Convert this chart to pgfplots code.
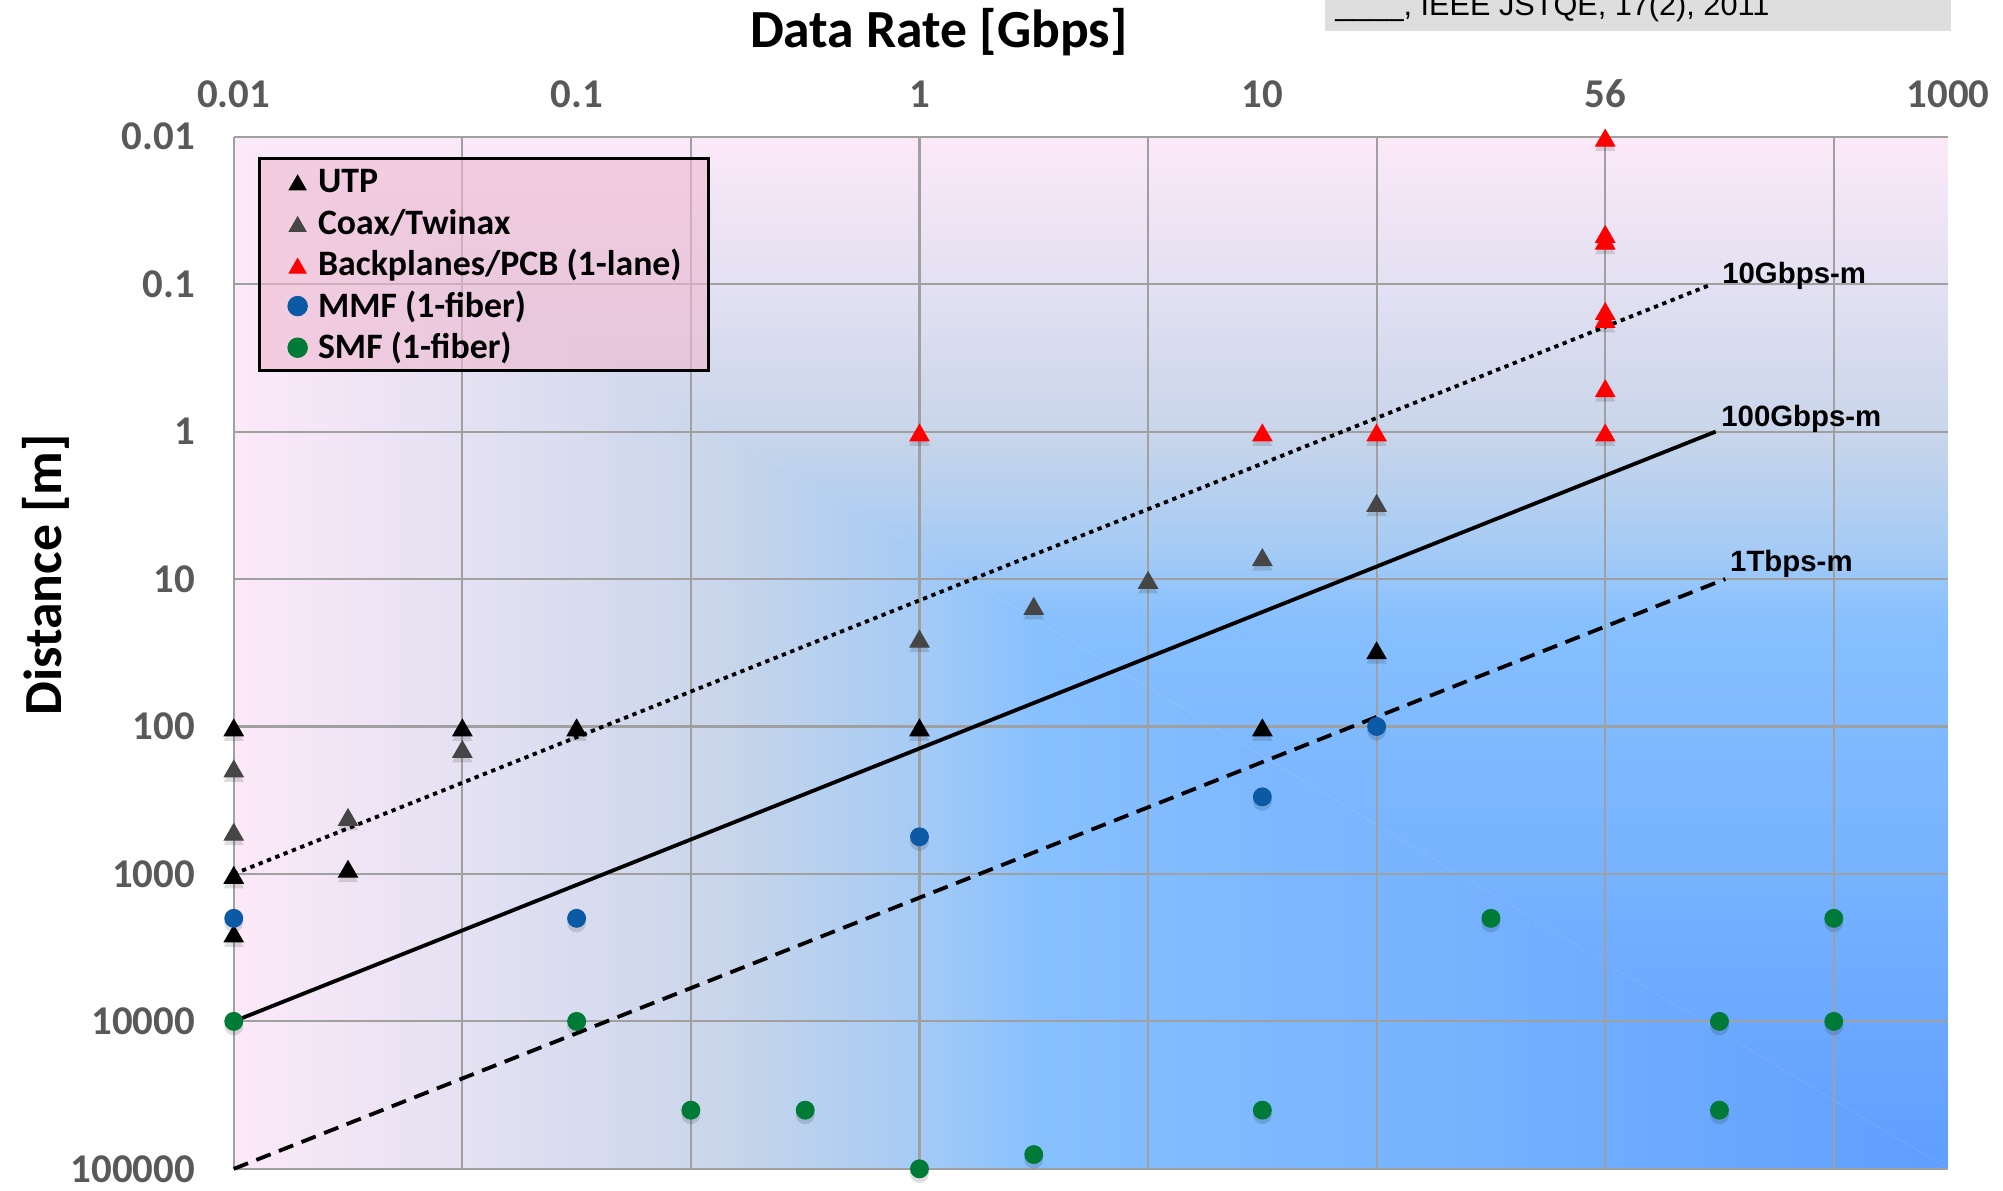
\documentclass[border=0pt]{standalone}
\usepackage{pgfplots}
\pgfplotsset{compat=1.18}
\usepackage{pgfplotstable}
\usepackage{fontspec}
\setmainfont{Carlito}
\newfontfamily\arialfont{Liberation Sans}

\definecolor{bgA}{RGB}{252,233,248}
\definecolor{bgB}{RGB}{226,224,242}
\definecolor{bgC}{RGB}{200,213,234}
\definecolor{bgD}{RGB}{165,203,245}
\definecolor{bgE}{RGB}{134,192,255}
\definecolor{bgF}{RGB}{118,178,255}
\definecolor{bgG}{RGB}{95,158,255}
\definecolor{gridgray}{RGB}{160,160,160}
\definecolor{tickgray}{RGB}{89,89,89}
\definecolor{coaxgray}{RGB}{70,70,70}
\definecolor{mmfblue}{RGB}{12,90,165}
\definecolor{smfgreen}{RGB}{0,122,55}
\definecolor{legendpink}{RGB}{240,186,208}
\definecolor{boxgray}{RGB}{222,222,222}

\pgfdeclarehorizontalshading{bgh}{100bp}{color(0bp)=(bgA); color(25bp)=(bgA); color(32.5bp)=(bgB); color(39.5bp)=(bgC); color(45bp)=(bgD); color(48.5bp)=(bgE); color(61bp)=(bgF); color(75bp)=(bgG); color(100bp)=(bgG)}
\pgfdeclareverticalshading{bgv}{100bp}{color(0bp)=(bgG); color(25bp)=(bgG); color(39bp)=(bgF); color(51.5bp)=(bgE); color(55bp)=(bgD); color(60.5bp)=(bgC); color(67.5bp)=(bgB); color(75bp)=(bgA); color(100bp)=(bgA)}

\pgfplotstableread{
x y
0.01 100
0.01 1000
0.01 2500
0.02154 910
0.04642 100
0.1 100
1 100
10 100
21.54 30
}\utp

\pgfplotstableread{
x y
0.01 190
0.01 510
0.02154 405
0.04642 140
1 25
2.154 15
4.642 10
10 7
21.54 3
}\coax

\pgfplotstableread{
x y
1 1
10 1
21.54 1
100 1
100 0.5
100 0.15
100 0.17
100 0.045
100 0.05
100 0.01
}\backpl

\pgfplotstableread{
x y
0.01 2000
0.1 2000
1 560
10 300
21.54 100
}\mmf

\pgfplotstableread{
x y
0.01 10000
0.1 10000
0.2154 40000
0.4642 40000
1 100000
2.154 80000
10 40000
46.42 2000
215.4 10000
215.4 40000
464.2 2000
464.2 10000
}\smf

\begin{document}
\begin{tikzpicture}
\path[use as bounding box] (-91.5pt,-8.5pt) rectangle (692.5pt,457.5pt);
% background gradient (plot box spans (0,0)--(671pt,404pt))
\begin{scope}
  \clip (0pt,404pt) -- (0pt,0pt) -- (671pt,0pt) -- cycle;
  \shade[shading=bgh] (0pt,0pt) rectangle (671pt,404pt);
\end{scope}
\begin{scope}
  \clip (0pt,404pt) -- (671pt,404pt) -- (671pt,0pt) -- cycle;
  \shade[shading=bgv] (0pt,0pt) rectangle (671pt,404pt);
\end{scope}
\begin{axis}[
  at={(0,0)}, anchor=south west,
  width=671pt, height=404pt, scale only axis,
  xmode=log, ymode=log, y dir=reverse,
  xmin=0.01, xmax=1000, ymin=0.01, ymax=100000,
  axis line style={draw=none},
  xtick={0.01,0.1,1,10,100,1000},
  xticklabels={0.01,0.1,1,10,56,1000},
  minor xtick={0.01,0.0464159,0.215443,1,4.64159,21.5443,100,464.159},
  ytick={0.01,0.1,1,10,100,1000,10000,100000},
  yticklabels={0.01,0.1,1,10,100,1000,10000,100000},
  xticklabel pos=upper,
  major tick length=0pt, minor tick length=0pt,
  xmajorgrids=false, xminorgrids=true, ymajorgrids=true, yminorgrids=false,
  major grid style={draw=gridgray, line width=0.8pt},
  minor grid style={draw=gridgray, line width=0.8pt},
  tick label style={font=\fontsize{16}{18}\selectfont\bfseries, text=tickgray, inner sep=0pt},
  xticklabel style={anchor=base, yshift=11.5pt},
  yticklabel style={anchor=east, xshift=-15pt},
  clip=false,
  legend cell align=left,
  legend style={at={(axis description cs:0.01416,0.9802)}, anchor=north west,
    draw=black, line width=1pt, fill=legendpink, fill opacity=0.6, text opacity=1, draw opacity=1,
    font=\fontsize{14}{16}\selectfont\bfseries, text=black,
    inner xsep=10.5pt, inner ysep=2.4pt, row sep=3.3pt,
    nodes={inner sep=0pt, text height=10.9pt, text depth=2.1pt},
    /tikz/every odd column/.append style={column sep=3.5pt}},
  legend image code/.code={\path (-4pt,0pt) (4pt,0pt); \draw[#1, fill opacity=1, draw opacity=1, line width=0.4pt, mark size=3.8pt] plot coordinates {(0pt,0pt)};},
  tshadow/.style={forget plot, only marks, mark options={fill=black, fill opacity=0.13, draw opacity=0, yshift=-3.3pt}},
  cshadow/.style={forget plot, only marks, mark options={fill=black, fill opacity=0.13, draw opacity=0, yshift=-1.8pt}},
]
% soft shadows under the markers
\addplot[tshadow, mark=triangle*, mark size=4.6pt] table {\utp};
\addplot[tshadow, mark=triangle*, mark size=4.6pt] table {\coax};
\addplot[tshadow, mark=triangle*, mark size=4.6pt] table {\backpl};
\addplot[cshadow, mark=*, mark size=3.7pt] table {\mmf};
\addplot[cshadow, mark=*, mark size=3.7pt] table {\smf};

\addplot[only marks, mark=triangle*, mark size=4.3pt, mark options={draw=black, fill=black, yshift=-1.5pt}] table {\utp};
\addlegendentry{UTP}
\addplot[only marks, mark=triangle*, mark size=4.3pt, mark options={draw=coaxgray, fill=coaxgray, yshift=-1.5pt}] table {\coax};
\addlegendentry{Coax/Twinax}
\addplot[only marks, mark=triangle*, mark size=4.3pt, mark options={draw=red, fill=red, yshift=-1.5pt}] table {\backpl};
\addlegendentry{Backplanes/PCB (1-lane)}
\addplot[only marks, mark=*, mark size=3.5pt, mark options={draw=mmfblue, fill=mmfblue}] table {\mmf};
\addlegendentry{MMF (1-fiber)}
\addplot[only marks, mark=*, mark size=3.5pt, mark options={draw=smfgreen, fill=smfgreen}] table {\smf};
\addlegendentry{SMF (1-fiber)}

\addplot[forget plot, black, line width=1.5pt, dash pattern=on 1.7pt off 1.8pt] coordinates {(0.01,1000) (205,0.1)};
\addplot[forget plot, black, line width=1.5pt] coordinates {(0.01,10000) (210,1)};
\addplot[forget plot, black, line width=1.5pt, dash pattern=on 6pt off 3.5pt] coordinates {(0.01,100000) (224,10)};

\node[anchor=base west, inner sep=0pt, font=\arialfont\fontsize{11.5}{13}\selectfont\bfseries] at (axis cs:218.8,0.0986) {10Gbps-m};
\node[anchor=base west, inner sep=0pt, font=\arialfont\fontsize{11.5}{13}\selectfont\bfseries] at (axis cs:217.4,0.927) {100Gbps-m};
\node[anchor=base west, inner sep=0pt, font=\arialfont\fontsize{11.5}{13}\selectfont\bfseries] at (axis cs:230.7,8.94) {1Tbps-m};

\node[yshift=35pt, anchor=base, inner sep=0pt, font=\fontsize{21}{25}\selectfont\bfseries] at (axis description cs:0.4113,1) {Data Rate [Gbps]};
\node[xshift=-67.5pt, rotate=90, anchor=base, inner sep=0pt, font=\fontsize{21}{25}\selectfont\bfseries] at (axis description cs:0,0.5755) {Distance [m]};
\end{axis}
\fill[boxgray] (427pt,445.5pt) rectangle (672pt,462pt);
\node[anchor=base west, inner sep=0pt, font=\arialfont\fontsize{12}{14}\selectfont] at (431pt,451.5pt) {\_\_\_\_, IEEE JSTQE, 17(2), 2011};
\end{tikzpicture}
\end{document}
